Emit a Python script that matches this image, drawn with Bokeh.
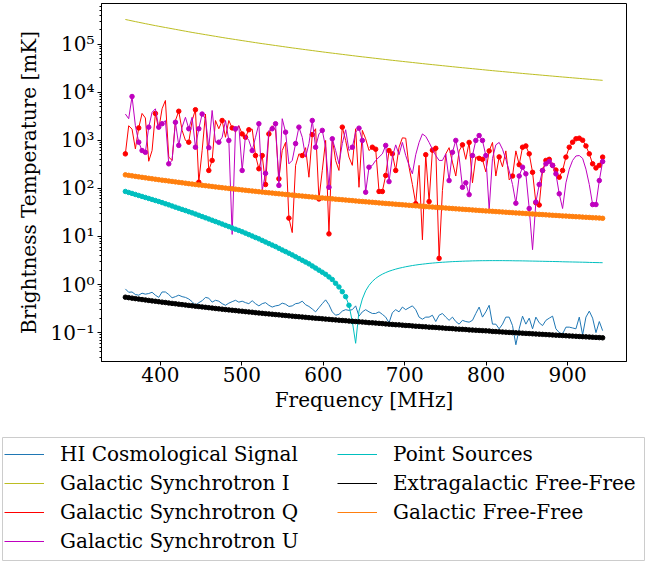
import numpy as np
from bokeh.plotting import figure
from bokeh.models import Range1d, FixedTicker, Legend, LegendItem
from bokeh.layouts import column
from bokeh.embed import file_html
from bokeh.resources import INLINE

# ---------------- data ----------------
freq = np.linspace(357, 943, 144)  # MHz channels

hi_signal = [
    0.81, 0.69, 0.70, 0.62, 0.60, 0.66, 0.63, 0.65, 0.69, 0.60,
    0.54, 0.70, 0.70, 0.62, 0.53, 0.56, 0.60, 0.56, 0.54, 0.50,
    0.44, 0.37, 0.42, 0.46, 0.54, 0.52, 0.43, 0.47, 0.45, 0.40,
    0.37, 0.41, 0.44, 0.47, 0.43, 0.45, 0.42, 0.40, 0.46, 0.40,
    0.36, 0.40, 0.42, 0.37, 0.34, 0.36, 0.37, 0.41, 0.39, 0.35,
    0.36, 0.40, 0.41, 0.45, 0.38, 0.35, 0.31, 0.27, 0.33, 0.40,
    0.48, 0.38, 0.27, 0.23, 0.24, 0.28, 0.30, 0.29, 0.30, 0.36,
    0.22, 0.27, 0.30, 0.27, 0.25, 0.25, 0.27, 0.24, 0.21, 0.16,
    0.26, 0.30, 0.27, 0.34, 0.30, 0.33, 0.36, 0.30, 0.21, 0.19,
    0.21, 0.21, 0.23, 0.17, 0.23, 0.25, 0.21, 0.18, 0.21, 0.17,
    0.15, 0.18, 0.17, 0.165, 0.18, 0.25, 0.34, 0.21, 0.27, 0.37,
    0.15, 0.15, 0.12, 0.15, 0.21, 0.21, 0.14, 0.056, 0.12, 0.22,
    0.15, 0.20, 0.12, 0.21, 0.16, 0.14, 0.18, 0.20, 0.22, 0.12,
    0.10, 0.094, 0.13, 0.13, 0.125, 0.12, 0.21, 0.09, 0.21, 0.28,
    0.20, 0.10, 0.17, 0.11,
]

sync_i = [
    323600, 312700, 302300, 292300, 282800, 273700, 265000, 256600, 248600, 240900,
    233600, 226800, 220200, 213900, 207700, 201600, 195800, 190100, 184600, 179300,
    174100, 169500, 165000, 160600, 156400, 152300, 148200, 144300, 140500, 136800,
    133200, 129900, 126800, 123700, 120700, 117800, 114900, 112100, 109400, 106800,
    104200, 101800, 99530, 97300, 95110, 92980, 90890, 88850, 86850, 84900,
    82990, 81250, 79560, 77890, 76270, 74670, 73110, 71580, 70090, 68620,
    67190, 65880, 64590, 63330, 62090, 60880, 59690, 58520, 57380, 56260,
    55160, 54150, 53160, 52180, 51220, 50290, 49360, 48460, 47570, 46700,
    45840, 45050, 44270, 43500, 42750, 42010, 41290, 40570, 39870, 39180,
    38510, 37880, 37260, 36650, 36050, 35460, 34880, 34310, 33750, 33200,
    32660, 32150, 31660, 31170, 30680, 30210, 29740, 29280, 28820, 28380,
    27940, 27520, 27120, 26720, 26320, 25930, 25550, 25170, 24800, 24440,
    24080, 23740, 23410, 23080, 22760, 22440, 22120, 21810, 21510, 21200,
    20910, 20620, 20350, 20070, 19800, 19540, 19280, 19020, 18760, 18510,
    18260, 18020, 17790, 17560,
]

# signed values: negative entries are drawn as |T| with a dot
sync_q = [
    -520, 2000, 1700, 660, -1800, 3600, 2900, 365, 610, -3600,
    1700, 4500, 6700, 445, 380, 2570, -4000, 1600, 990, -910,
    2570, -4300, -134, 610, 3500, -235, -380, 2570, 1730, -2570,
    1150, 2570, -1800, 1470, 2000, -1350, -1150, -1650, 1700, -480,
    -255, -480, -120, -1350, 2000, 1650, -158, 610, 900, -24,
    12, 300, 520, -480, 700, 170, -1310, 1730, -60, 235,
    990, -11.3, 1070, 380, 235, -1870, 990, 445, 300, 1730,
    105, 1600, 1070, 610, -715, -650, -86, -86, -185, -610,
    -520, -235, 715, 1120, 1100, 275, 120, -48, 300, 8.5,
    -500, -53, -620, -680, -3.5, 90, 520, 700, 350, 180,
    600, -800, 400, -900, 130, 450, -420, -400, 220, -600,
    900, 180, -450, 280, 600, 150, -180, 600, -310, -715,
    -760, -520, -215, -50, -45, -235, -380, -400, -300, -240,
    -170, -235, -445, -715, -910, -1070, -1100, -1000, -760, -520,
    -323, -265, -300, -445,
]

sync_u = [
    3500, 2800, -8100, 2000, -910, -610, -560, -1870, 3800, 4500,
    -1870, -2200, 2570, -323, 380, -2360, -780, 1870, 3000, -1730,
    3000, -715, -1730, -3500, 2800, -700, 4150, 910, -910, 1150,
    2570, -990, 11, -1730, 2000, -235, 1250, 990, -610, 1150,
    -2200, 90, -205, 1600, -1730, -2200, -115, 2800, -1470, 323,
    380, -850, -1870, 1150, 445, 850, -2570, -715, 1350, -1600,
    715, -105, -1070, 610, 323, 850, 1650, 610, -715, 1470,
    -1780, -990, -83, -275, 300, 380, 445, 520, -780, -138,
    450, 800, 500, 900, 480, 300, 200, 500, 900, 1350,
    1200, 900, 650, 480, 380, 380, 520, -145, -560, -990,
    450, -105, -130, -74, -480, -990, -1250, -990, -480, 36,
    420, 800, 900, 650, 400, 230, 120, -49, -180, -275,
    -200, -38, 5.3, -52, -120, -235, -323, -360, -300, -200,
    -77, 38, 130, 250, 380, 470, 480, 420, 250, 120,
    -46, -46, -145, -360,
]

point_sources = [
    -86, -82, -78.2, -74.5, -71.0, -67.7, -64.5, -61.5, -58.6, -55.8,
    -53.2, -50.5, -47.8, -45.3, -42.9, -40.6, -38.4, -36.4, -34.5, -32.6,
    -30.9, -29.2, -27.5, -25.9, -24.4, -23.0, -21.7, -20.4, -19.2, -18.1,
    -17.0, -16.0, -15.0, -14.1, -13.3, -12.5, -11.7, -10.9, -10.2, -9.5,
    -8.9, -8.25, -7.65, -7.1, -6.6, -6.15, -5.65, -5.22, -4.83, -4.47,
    -4.13, -3.78, -3.47, -3.19, -2.93, -2.69, -2.43, -2.2, -1.99, -1.8,
    -1.63, -1.44, -1.27, -1.06, -0.89, -0.71, -0.56, -0.37, -0.17, 0.06,
    0.28, 0.5, 0.74, 0.96, 1.16, 1.34, 1.5, 1.64, 1.77, 1.89,
    1.99, 2.09, 2.18, 2.26, 2.34, 2.41, 2.48, 2.54, 2.6, 2.65,
    2.7, 2.75, 2.79, 2.83, 2.87, 2.9, 2.93, 2.96, 2.99, 3.01,
    3.03, 3.05, 3.07, 3.08, 3.1, 3.11, 3.12, 3.13, 3.13, 3.14,
    3.14, 3.14, 3.14, 3.14, 3.13, 3.13, 3.12, 3.11, 3.11, 3.1,
    3.09, 3.08, 3.07, 3.06, 3.05, 3.04, 3.03, 3.02, 3.01, 3.0,
    2.99, 2.97, 2.96, 2.95, 2.94, 2.93, 2.92, 2.91, 2.9, 2.88,
    2.87, 2.86, 2.85, 2.84,
]

extragalactic_ff = [
    -0.545, -0.533, -0.521, -0.509, -0.498, -0.487, -0.477, -0.467, -0.457, -0.448,
    -0.439, -0.430, -0.422, -0.413, -0.405, -0.398, -0.390, -0.382, -0.375, -0.368,
    -0.361, -0.354, -0.348, -0.342, -0.336, -0.330, -0.324, -0.318, -0.312, -0.307,
    -0.301, -0.297, -0.292, -0.287, -0.282, -0.278, -0.273, -0.269, -0.265, -0.260,
    -0.256, -0.252, -0.248, -0.245, -0.241, -0.237, -0.234, -0.230, -0.227, -0.223,
    -0.220, -0.217, -0.214, -0.211, -0.208, -0.205, -0.202, -0.199, -0.197, -0.194,
    -0.191, -0.189, -0.186, -0.184, -0.181, -0.179, -0.177, -0.174, -0.172, -0.170,
    -0.168, -0.166, -0.164, -0.161, -0.160, -0.158, -0.156, -0.154, -0.152, -0.150,
    -0.148, -0.146, -0.145, -0.143, -0.141, -0.140, -0.138, -0.136, -0.135, -0.133,
    -0.132, -0.130, -0.129, -0.128, -0.126, -0.125, -0.123, -0.122, -0.121, -0.119,
    -0.118, -0.117, -0.116, -0.114, -0.113, -0.112, -0.111, -0.110, -0.109, -0.108,
    -0.106, -0.105, -0.104, -0.103, -0.102, -0.101, -0.100, -0.0993, -0.0984, -0.0974,
    -0.0964, -0.0955, -0.0946, -0.0937, -0.0929, -0.0920, -0.0911, -0.0903, -0.0894, -0.0886,
    -0.0877, -0.0870, -0.0862, -0.0854, -0.0846, -0.0839, -0.0831, -0.0824, -0.0816, -0.0809,
    -0.0802, -0.0795, -0.0788, -0.0781,
]

galactic_ff = [
    -190.5, -185.9, -181.5, -177.2, -173.1, -169.1, -165.2, -161.5, -157.8, -154.4,
    -151.0, -147.8, -144.8, -141.8, -138.8, -136.0, -133.1, -130.4, -127.7, -125.0,
    -122.4, -120.1, -117.8, -115.6, -113.4, -111.3, -109.2, -107.1, -105.1, -103.1,
    -101.1, -99.4, -97.6, -95.9, -94.3, -92.6, -91.0, -89.4, -87.9, -86.4,
    -84.9, -83.5, -82.2, -80.8, -79.5, -78.3, -77.0, -75.8, -74.5, -73.3,
    -72.2, -71.1, -70.0, -69.0, -68.0, -66.9, -65.9, -65.0, -64.0, -63.0,
    -62.1, -61.2, -60.4, -59.5, -58.7, -57.9, -57.1, -56.3, -55.5, -54.7,
    -53.9, -53.2, -52.5, -51.8, -51.2, -50.5, -49.8, -49.2, -48.5, -47.9,
    -47.3, -46.7, -46.1, -45.5, -45.0, -44.4, -43.9, -43.3, -42.8, -42.3,
    -41.7, -41.2, -40.8, -40.3, -39.8, -39.4, -38.9, -38.4, -38.0, -37.5,
    -37.1, -36.7, -36.3, -35.9, -35.5, -35.1, -34.7, -34.3, -33.9, -33.6,
    -33.2, -32.8, -32.5, -32.2, -31.8, -31.5, -31.2, -30.8, -30.5, -30.2,
    -29.9, -29.6, -29.3, -29.0, -28.7, -28.4, -28.1, -27.8, -27.5, -27.3,
    -27.0, -26.7, -26.5, -26.2, -26.0, -25.7, -25.5, -25.2, -25.0, -24.8,
    -24.5, -24.3, -24.1, -23.8,
]

series_names = [
    "HI Cosmological Signal", "Galactic Synchrotron I", "Galactic Synchrotron Q",
    "Galactic Synchrotron U", "Point Sources", "Extragalactic Free-Free", "Galactic Free-Free",
]
y_ticks = [0.1, 1, 10, 100, 1e3, 1e4, 1e5]
y_tick_labels = ["10\u207b\u00b9", "10\u2070", "10\u00b9", "10\u00b2", "10\u00b3", "10\u2074", "10\u2075"]
x_ticks = [400, 500, 600, 700, 800, 900]

# ---------------- styling ----------------
FONT = "DejaVu Serif"
colors = ["#1f77b4", "#bcbd22", "#ff0000", "#bf00bf", "#00bfbf", "#000000", "#ff7f0e"]
has_dots = [False, False, True, True, True, True, True]
all_series = [hi_signal, sync_i, sync_q, sync_u, point_sources, extragalactic_ff, galactic_ff]

p = figure(width=646, height=430, y_axis_type="log",
           x_range=Range1d(327.7, 972.3), y_range=Range1d(0.0251, 6.95e5),
           output_backend="svg", toolbar_location=None,
           min_border_left=101, min_border_right=20, min_border_top=3, min_border_bottom=69,
           background_fill_color="white", border_fill_color="white")
p.xgrid.visible = False
p.ygrid.visible = False
p.outline_line_color = "black"
p.outline_line_width = 1

for vals, col, dots in zip(all_series, colors, has_dots):
    v = np.asarray(vals, dtype=float)
    p.line(freq, np.abs(v), line_color=col, line_width=1)
    if dots:
        neg = v < 0
        p.scatter(freq[neg], np.abs(v[neg]), size=4.5, fill_color=col, line_color=col)

minor = [m * 10.0 ** k for k in range(-2, 6) for m in range(2, 10)]
p.yaxis.ticker = FixedTicker(ticks=y_ticks, minor_ticks=minor)
p.yaxis.major_label_overrides = dict(zip(y_ticks, y_tick_labels))
p.xaxis.ticker = FixedTicker(ticks=x_ticks, minor_ticks=[])
p.xaxis.axis_label = "Frequency [MHz]"
p.yaxis.axis_label = "Brightness Temperature [mK]"

for ax in (p.xaxis[0], p.yaxis[0]):
    ax.major_label_text_font = FONT
    ax.major_label_text_font_size = "20px"
    ax.major_label_text_color = "black"
    ax.axis_label_text_font = FONT
    ax.axis_label_text_font_size = "20px"
    ax.axis_label_text_font_style = "normal"
    ax.axis_label_text_color = "black"
    ax.axis_line_color = "black"
    ax.major_tick_in = 0
    ax.major_tick_out = 4
    ax.minor_tick_in = 0
    ax.minor_tick_out = 2
    ax.major_tick_line_color = "black"
    ax.minor_tick_line_color = "black"
    ax.major_label_standoff = 3
    ax.axis_label_standoff = 6
p.xaxis[0].major_label_standoff = 1
p.xaxis[0].axis_label_standoff = 3

# ---------------- legend panel (separate, full-width frame = legend box) ----------------
leg = figure(width=646, height=131, output_backend="svg", toolbar_location=None,
             x_axis_location=None, y_axis_location=None,
             x_range=Range1d(0, 1), y_range=Range1d(-2, -1),
             min_border_left=2, min_border_right=2, min_border_top=7, min_border_bottom=1,
             background_fill_color="white", border_fill_color="white")
for fig in (p, leg):
    try:
        fig.frame_align = False
    except AttributeError:
        pass
leg.grid.visible = False
leg.outline_line_color = "#cccccc"
leg.outline_line_width = 1

items = []
for name, vals, col in zip(series_names, all_series, colors):
    # proxy renderer (same data, outside this panel's visible range) for the legend swatch
    r = leg.line(x=freq, y=np.abs(np.asarray(vals, dtype=float)), line_color=col, line_width=1)
    items.append(LegendItem(label=name, renderers=[r]))

legend = Legend(items=items, ncols=2, location=(2, 7),
                label_text_font=FONT, label_text_font_size="20px", label_text_color="black",
                glyph_width=40, glyph_height=20, label_standoff=16,
                spacing=5, padding=5, margin=0, label_width=272,
                border_line_color=None, background_fill_alpha=0)
leg.add_layout(legend, "center")

layout = column(p, leg, spacing=0)
open("out.html", "w").write(file_html(layout, INLINE))
